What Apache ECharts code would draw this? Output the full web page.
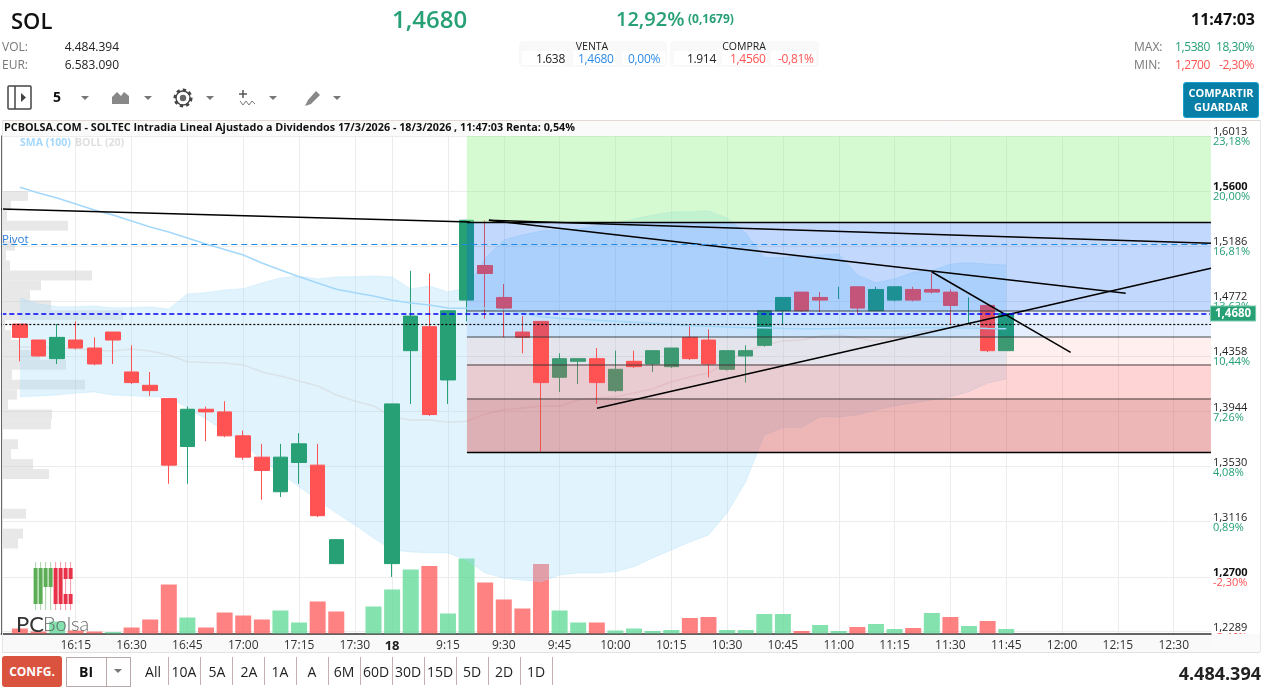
<!DOCTYPE html>
<html>
<head>
<meta charset="utf-8">
<title>SOL</title>
<script src="https://cdn.jsdelivr.net/npm/echarts@6/dist/echarts.min.js"></script>
<style>
html, body { margin: 0; padding: 0; background: #fff; overflow: hidden; }
body { width: 1274px; height: 693px; position: relative; font-family: "Open Sans", sans-serif; color: #222; }
#main { position: absolute; left: 0; top: 0; width: 1274px; height: 693px; }
.t { position: absolute; white-space: nowrap; line-height: 1; transform: translateY(-50%); }
.r { transform: translate(-100%, -50%); }
.c { transform: translate(-50%, -50%); }
.box { position: absolute; box-sizing: border-box; }
.green { color: #26a074; }
.red { color: #ff5252; }
.blue { color: #2f8be6; }
.grey { color: #777; }
.sep { position: absolute; top: 657px; width: 1px; height: 28px; background: #c4b0b0; }
.range { position: absolute; top: 672px; font-size: 14px; line-height: 1; font-weight: 500; transform: translate(-50%, -50%); }
svg { position: absolute; }
</style>
</head>
<body>
<div id="main"></div>

<!-- header -->
<div class="t" style="left:11px;top:20px;font-size:22px;font-weight:600;color:#111">SOL</div>
<div class="t green" style="left:392px;top:19px;font-size:24px;font-weight:600">1,4680</div>
<div class="t green" style="left:616px;top:19px;font-size:20px;font-weight:600">12,92%</div>
<div class="t green" style="left:688px;top:19px;font-size:12px;font-weight:700">(0,1679)</div>
<div class="t r" style="left:1255px;top:19px;font-size:16px;font-weight:700;color:#111">11:47:03</div>

<div class="t grey" style="left:2px;top:47px;font-size:12px">VOL:</div>
<div class="t r" style="left:119px;top:47px;font-size:12px">4.484.394</div>
<div class="t grey" style="left:2px;top:65px;font-size:12px">EUR:</div>
<div class="t r" style="left:119px;top:65px;font-size:12px">6.583.090</div>

<div class="box" style="left:519px;top:41px;width:148px;height:26px;background:#f9f9f9;border-radius:4px"></div>
<div class="box" style="left:670px;top:41px;width:149px;height:26px;background:#f9f9f9;border-radius:4px"></div>
<div class="box" style="left:522px;top:51px;width:43px;height:14px;background:#fff"></div>
<div class="box" style="left:573px;top:51px;width:43px;height:14px;background:#fff"></div>
<div class="box" style="left:622px;top:51px;width:43px;height:14px;background:#fff"></div>
<div class="box" style="left:674px;top:51px;width:43px;height:14px;background:#fff"></div>
<div class="box" style="left:722px;top:51px;width:45px;height:14px;background:#fff"></div>
<div class="box" style="left:771px;top:51px;width:45px;height:14px;background:#fff"></div>
<div class="t c" style="left:592px;top:45.5px;font-size:10.5px">VENTA</div>
<div class="t c" style="left:744px;top:45.5px;font-size:10.5px">COMPRA</div>
<div class="t r" style="left:565px;top:58.5px;font-size:12px;letter-spacing:-0.3px">1.638</div>
<div class="t blue" style="left:578px;top:58.5px;font-size:12px;letter-spacing:-0.3px">1,4680</div>
<div class="t blue" style="left:628px;top:58.5px;font-size:12px;letter-spacing:-0.3px">0,00%</div>
<div class="t r" style="left:716px;top:58.5px;font-size:12px;letter-spacing:-0.3px">1.914</div>
<div class="t red" style="left:730px;top:58.5px;font-size:12px;letter-spacing:-0.3px">1,4560</div>
<div class="t red" style="left:778px;top:58.5px;font-size:12px;letter-spacing:-0.3px">-0,81%</div>

<div class="t grey" style="left:1134px;top:47px;font-size:12px">MAX:</div>
<div class="t green" style="left:1175px;top:47px;font-size:12px;letter-spacing:-0.4px">1,5380</div>
<div class="t r green" style="left:1254px;top:47px;font-size:12px;letter-spacing:-0.4px">18,30%</div>
<div class="t grey" style="left:1134px;top:65px;font-size:12px">MIN:</div>
<div class="t red" style="left:1175px;top:65px;font-size:12px;letter-spacing:-0.4px">1,2700</div>
<div class="t r red" style="left:1254px;top:65px;font-size:12px;letter-spacing:-0.4px">-2,30%</div>

<div class="box" style="left:1183px;top:82px;width:76px;height:36px;background:#087fa6;border:1px solid #19a0cc;border-radius:3px"></div>
<div class="t c" style="left:1221px;top:92px;font-size:11px;font-weight:700;color:#fff">COMPARTIR</div>
<div class="t c" style="left:1221px;top:106px;font-size:11px;font-weight:700;color:#fff">GUARDAR</div>

<!-- toolbar -->
<svg style="left:0;top:80px" width="345" height="36" viewBox="0 80 345 36">
  <rect x="8" y="86" width="23" height="23" fill="none" stroke="#444" stroke-width="1.5" rx="1"/>
  <line x1="15" y1="86" x2="15" y2="109" stroke="#444" stroke-width="1.5"/>
  <path d="M21 93 L26 97.5 L21 102 Z" fill="#444"/>
  <path d="M81 96 h8 l-4 4 Z M144 96 h8 l-4 4 Z M206 96 h8 l-4 4 Z M269 96 h8 l-4 4 Z M333 96 h8 l-4 4 Z" fill="#777"/>
  <path d="M112 104 V97 L117 92 L121 96 L124 92 L129 96 V104 Z" fill="#888"/>
  <circle cx="183" cy="98" r="8" fill="none" stroke="#444" stroke-width="3" stroke-dasharray="3.2 3"/>
  <circle cx="183" cy="98" r="7" fill="none" stroke="#444" stroke-width="1.3"/>
  <circle cx="183" cy="98" r="3.2" fill="#666"/>
  <path d="M243 90 v8 M239 94 h8" stroke="#555" stroke-width="1.5"/>
  <path d="M240 101 l3 4 l3 -4 l3 4 l3 -4 l3 3" fill="none" stroke="#777"/>
  <path d="M305 106 L308 100 L316 91 L320 95 L311 104 Z" fill="#888"/>
</svg>
<div class="t" style="left:53px;top:97px;font-size:14px;font-weight:700;color:#111">5</div>

<!-- footer -->
<div class="box" style="left:2px;top:656px;width:60px;height:31px;background:#d9533f;border-radius:3px"></div>
<div class="t c" style="left:32px;top:672px;font-size:12px;font-weight:700;color:#fff">CONFG.</div>
<div class="box" style="left:66px;top:657px;width:65px;height:30px;border:1px solid #b9a8a8"></div>
<div class="box" style="left:106px;top:657px;width:1px;height:30px;background:#b9a8a8"></div>
<div class="t c" style="left:86px;top:672px;font-size:14px;font-weight:700;color:#111">BI</div>
<svg style="left:113px;top:668px" width="10" height="6"><path d="M1 1 h8 l-4 4 Z" fill="#777"/></svg>
<div class="range" style="left:153px">All</div><div class="sep" style="left:168px"></div>
<div class="range" style="left:184px">10A</div><div class="sep" style="left:200px"></div>
<div class="range" style="left:217px">5A</div><div class="sep" style="left:232px"></div>
<div class="range" style="left:249px">2A</div><div class="sep" style="left:264px"></div>
<div class="range" style="left:280px">1A</div><div class="sep" style="left:296px"></div>
<div class="range" style="left:312px">A</div><div class="sep" style="left:328px"></div>
<div class="range" style="left:344px">6M</div><div class="sep" style="left:360px"></div>
<div class="range" style="left:376px">60D</div><div class="sep" style="left:392px"></div>
<div class="range" style="left:408px">30D</div><div class="sep" style="left:424px"></div>
<div class="range" style="left:440px">15D</div><div class="sep" style="left:456px"></div>
<div class="range" style="left:472px">5D</div><div class="sep" style="left:488px"></div>
<div class="range" style="left:504px">2D</div><div class="sep" style="left:520px"></div>
<div class="range" style="left:536px">1D</div><div class="sep" style="left:552px"></div>
<div class="t r" style="left:1261px;top:673px;font-size:18px;font-weight:700;color:#222">4.484.394</div>

<script>
// bars of 5 minutes, the first slot is an empty pad so the axis starts left of 16:00
var categories = ['',
  '16:00','16:05','16:10','16:15','16:20','16:25','16:30','16:35','16:40','16:45',
  '16:50','16:55','17:00','17:05','17:10','17:15','17:20','17:25','17:30','17:35',
  '18','9:05','9:10','9:15','9:20','9:25','9:30','9:35','9:40','9:45',
  '9:50','9:55','10:00','10:05','10:10','10:15','10:20','10:25','10:30','10:35',
  '10:40','10:45','10:50','10:55','11:00','11:05','11:10','11:15','11:20','11:25',
  '11:30','11:35','11:40','11:45','11:50','11:55','12:00','12:05','12:10','12:15',
  '12:20','12:25','12:30','12:35','12:40']
var tickLabels = ['16:15','16:30','16:45','17:00','17:15','17:30','18','9:15','9:30','9:45',
  '10:00','10:15','10:30','10:45','11:00','11:15','11:30','11:45','12:00','12:15','12:30']

var priceTicks = [1.6013,1.5600,1.5186,1.4772,1.4358,1.3944,1.3530,1.3116,1.2700,1.2289]
var pctLabels = ['23,18%','20,00%','16,81%','13,63%','10,44%','7,26%','4,08%','0,89%','-2,30%','-5,46%']

var opens = [1.460,1.448,1.434,1.448,1.442,1.454,1.424,1.414,1.404,1.368,
  1.396,1.394,1.376,1.360,1.334,1.356,1.354,1.280,null,null,
  1.280,1.440,1.458,1.418,1.478,1.504,1.480,1.454,1.462,1.420,
  1.432,1.434,1.410,1.432,1.430,1.428,1.450,1.448,1.426,1.436,
  1.444,1.470,1.484,1.480,1.480,1.488,1.470,1.478,1.486,1.486,
  1.484,1.470,1.474,1.440]
var closes = [1.450,1.436,1.450,1.442,1.430,1.448,1.416,1.410,1.354,1.396,
  1.394,1.376,1.360,1.350,1.360,1.370,1.316,1.298,null,null,
  1.400,1.466,1.392,1.470,1.538,1.498,1.472,1.450,1.416,1.434,
  1.434,1.416,1.426,1.428,1.440,1.442,1.434,1.430,1.440,1.440,
  1.470,1.480,1.470,1.478,1.480,1.472,1.486,1.488,1.478,1.484,
  1.474,1.470,1.440,1.468]
var lows = [1.432,1.4355,1.430,1.441,1.429,1.430,1.415,1.406,1.340,1.340,
  1.372,1.375,1.358,1.328,1.330,1.340,1.315,1.280,null,null,
  1.270,1.400,1.391,1.400,1.462,1.464,1.450,1.438,1.364,1.409,
  1.415,1.400,1.409,1.427,1.424,1.427,1.433,1.420,1.425,1.416,
  1.443,1.460,1.469,1.469,1.4788,1.468,1.470,1.477,1.477,1.483,
  1.460,1.460,1.439,1.440]
var highs = [1.460,1.448,1.460,1.462,1.450,1.454,1.444,1.424,1.404,1.398,
  1.398,1.402,1.380,1.370,1.370,1.378,1.370,1.298,null,null,
  1.400,1.500,1.498,1.470,1.538,1.538,1.490,1.466,1.462,1.438,
  1.434,1.442,1.440,1.440,1.440,1.442,1.460,1.456,1.440,1.444,
  1.470,1.480,1.484,1.484,1.488,1.488,1.488,1.488,1.488,1.498,
  1.486,1.480,1.474,1.468]

var volumes = [34000,13600,81600,20400,13600,10200,40800,95200,333200,108800,
  40800,142800,122400,95200,156400,74800,217600,149600,0,183600,
  299200,435200,459000,136000,510000,346800,231200,170000,472600,156400,
  74800,74800,20400,34000,17000,23800,105400,112200,23800,23800,
  132600,132600,17000,57800,17000,44200,64600,30600,37400,139400,
  112200,51000,85000,30600]
var volumeSide = ['r','r','g','r','r','g','r','r','r','g',
  'r','r','r','r','g','g','r','r','g','g',
  'g','g','r','g','g','r','r','r','r','g',
  'g','r','g','g','g','g','r','r','g','g',
  'g','g','r','g','g','r','g','g','r','g',
  'r','g','r','g']

var sma100 = [1.5628,1.5585,1.5547,1.5502,1.5457,1.5420,1.5374,1.5329,1.5292,1.5247,
  1.5202,1.5160,1.5119,1.5059,1.5006,1.4956,1.4909,1.4861,1.4836,1.4811,
  1.4779,1.4758,1.4743,1.4721,1.4719,1.4719,1.4704,1.4683,1.4655,1.4643,
  1.4638,1.4628,1.4621,1.4613,1.4606,1.4598,1.4588,1.4583,1.4578,1.4573,
  1.4573,1.4568,1.4565,1.4565,1.4568,1.4570,1.4570,1.4570,1.4573,1.4573,
  1.4570,1.4570,1.4567,1.4565]
var bollUpper = [1.4796,1.4751,1.4730,1.4730,1.4736,1.4721,1.4723,1.4728,1.4713,1.4826,
  1.4836,1.4856,1.4866,1.4909,1.4946,1.4961,1.4939,1.4954,1.4956,1.4961,
  1.4954,1.4864,1.4886,1.4841,1.4871,1.5096,1.5232,1.5269,1.5299,1.5307,
  1.5314,1.5339,1.5359,1.5389,1.5420,1.5442,1.5444,1.5452,1.5397,1.5284,
  1.5099,1.5099,1.5114,1.5119,1.5127,1.4969,1.4911,1.4939,1.4991,1.5001,
  1.5051,1.5061,1.5051,1.5044]
var bollMid = [1.4428,1.4428,1.4420,1.4413,1.4405,1.4398,1.4413,1.4398,1.4368,1.4317,
  1.4311,1.4308,1.4293,1.4240,1.4210,1.4172,1.4135,1.4067,1.4022,1.3985,
  1.3902,1.3879,1.3879,1.3862,1.3870,1.3924,1.3954,1.3970,1.3985,1.3985,
  1.4030,1.4045,1.4054,1.4082,1.4112,1.4167,1.4202,1.4232,1.4317,1.4393,
  1.4443,1.4473,1.4480,1.4510,1.4518,1.4495,1.4473,1.4495,1.4533,1.4556,
  1.4570,1.4586,1.4563,1.4556]
var bollLower = [1.4054,1.4060,1.4067,1.4082,1.4090,1.4067,1.4062,1.4054,1.4052,1.3970,
  1.3887,1.3797,1.3707,1.3579,1.3481,1.3378,1.3278,1.3181,1.3090,1.2993,
  1.2903,1.2888,1.2882,1.2880,1.2828,1.2730,1.2692,1.2677,1.2665,1.2715,
  1.2730,1.2730,1.2740,1.2777,1.2843,1.2903,1.2963,1.3015,1.3181,1.3416,
  1.3767,1.3822,1.3822,1.3904,1.3902,1.3917,1.3954,1.3985,1.4007,1.4030,
  1.4054,1.4092,1.4157,1.4187]

// volume at price, rows from the top of the left profile
var profile = [25,8,4,65,0,12,3,7,89,38,27,48,120,2,8,17,37,63,9,82,14,5,49,48,0,15,8,30,46,0,0,0,23,0,20,15]

var lastPrice = 1.4680
var pivotPrice = 1.5199
var dottedPrice = 1.4599

// fibonacci zones, slots on the overlay axis and prices
var zoneStart = 25.02
var zoneEnd = 65
var zoneLevels = [1.6013,1.5367,1.4698,1.4501,1.4298,1.4042,1.3637]
// trend lines: slot, price, slot, price
var trendLines = [
  [0,1.5465,25.19,1.5367],
  [26.2,1.5380,65,1.5207],
  [26.2,1.5380,60.42,1.4831],
  [49.99,1.4993,57.46,1.4388],
  [32.01,1.3967,65,1.5019]
]

var GREEN = '#26a074'
var RED = '#ff5252'
var FONT = '"Open Sans", sans-serif'

var zoneColors = ['rgba(150,240,140,0.4)','rgba(0,95,246,0.24)','rgba(0,95,246,0.106)',
  'rgba(255,95,95,0.1)','rgba(255,90,90,0.26)','rgba(214,83,83,0.42)']
var lineColors = ['#000','rgba(50,50,50,0.6)','rgba(50,50,50,0.6)','rgba(50,50,50,0.6)','rgba(50,50,50,0.6)','#000']

function pad(list) {
  return ['-'].concat(list)
}
function isDoji(i) {
  return opens[i] != null && opens[i] === closes[i]
}
function candleRow(i) {
  return [opens[i], closes[i], lows[i], highs[i]]
}
var EMPTY_ROW = ['-','-','-','-']

var candles = [EMPTY_ROW].concat(opens.map((x, i) => (x == null || isDoji(i)) ? EMPTY_ROW : candleRow(i)))
var dojis = [EMPTY_ROW].concat(opens.map((x, i) => isDoji(i) ? candleRow(i) : EMPTY_ROW))

var zoneAreas = []
for (var i = 0; i < zoneColors.length; i++) {
  zoneAreas.push([
    { xAxis: zoneStart, yAxis: zoneLevels[i], itemStyle: { color: zoneColors[i] } },
    { xAxis: zoneEnd, yAxis: zoneLevels[i + 1] }
  ])
}
var drawnLines = []
for (var i = 0; i < lineColors.length; i++) {
  drawnLines.push([
    { coord: [zoneStart, zoneLevels[i + 1]], lineStyle: { color: lineColors[i], width: i == 0 || i == 5 ? 1.3 : 1.5, type: 'solid' } },
    { coord: [zoneEnd, zoneLevels[i + 1]] }
  ])
}
trendLines.forEach(x => {
  drawnLines.push([
    { coord: [x[0], x[1]], lineStyle: { color: '#000', width: 1.5, type: 'solid' } },
    { coord: [x[2], x[3]] }
  ])
})

// the PC logo, it is only a picture in the corner
var logo = []
var logoColors = ['#5cae55','#5cae55','#5cae55','#5cae55','#e8324a','#e8324a','#e8324a','#e8324a']
logoColors.forEach((c, k) => {
  var x = 35.6 + k * 5
  logo.push({ type: 'rect', shape: { x: x - 0.5, y: 562, width: 1, height: 48 }, style: { fill: c, opacity: 0.5 }, z: 20, silent: true })
  var parts = k < 2 || k == 4 || k == 5 ? [[568, 36]] : k < 4 ? [[568, 19]] : [[568, 11], [594, 10]]
  parts.forEach(p => {
    logo.push({ type: 'rect', shape: { x: x - 2, y: p[0], width: 4, height: p[1] }, style: { fill: c }, z: 20, silent: true })
  })
})

var chart = echarts.init(document.getElementById('main'), null, { width: 1274, height: 693 })
chart.setOption({
  animation: false,
  grid: [
    { left: 1.3, right: 63.05, top: 136, bottom: 59.5 },
    { left: 3, width: 1208, top: 191, height: 357.5 }
  ],
  xAxis: [
    {
      type: 'category',
      data: categories,
      boundaryGap: false,
      axisLine: { lineStyle: { color: '#333', width: 1.5 } },
      axisTick: { show: false },
      axisLabel: {
        interval: (idx, val) => tickLabels.includes(val),
        color: '#333',
        fontFamily: FONT,
        fontSize: 12,
        margin: 6,
        formatter: val => val == '18' ? '{b|18}' : val,
        rich: { b: { fontWeight: 'bold', fontSize: 13, color: '#222', fontFamily: FONT } }
      },
      splitLine: {
        show: true,
        interval: (idx, val) => tickLabels.includes(val),
        lineStyle: { color: '#ececec', width: 1 }
      }
    },
    { type: 'value', min: 0, max: 65, show: false, gridIndex: 0 },
    { type: 'value', min: 0, max: 1208, show: false, gridIndex: 1 }
  ],
  yAxis: [
    {
      type: 'value',
      position: 'right',
      min: 1.2275,
      max: 1.6013,
      axisLine: { show: true, lineStyle: { color: '#333', width: 1.5 } },
      axisTick: { show: false, customValues: priceTicks },
      splitLine: { show: true, lineStyle: { color: '#ececec', width: 1 } },
      axisLabel: {
        customValues: priceTicks,
        margin: 2,
        align: 'left',
        padding: [2, 0, 0, 0],
        formatter: val => {
          var idx = priceTicks.findIndex(x => Math.abs(x - val) < 0.00005)
          var style = pctLabels[idx].charAt(0) == '-' ? 'r' : 'g'
          var head = (val == 1.56 || val == 1.27) ? 'pb' : 'p'
          return '{' + head + '|' + val.toFixed(4).replace('.', ',') + '}\n{' + style + '|' + pctLabels[idx] + '}'
        },
        rich: {
          p: { color: '#222', fontSize: 11, fontFamily: FONT, lineHeight: 10 },
          pb: { color: '#111', fontSize: 11, fontWeight: 'bold', fontFamily: FONT, lineHeight: 10 },
          g: { color: GREEN, fontSize: 11, fontFamily: FONT, lineHeight: 10 },
          r: { color: RED, fontSize: 11, fontFamily: FONT, lineHeight: 10 }
        }
      }
    },
    { type: 'value', min: 0, max: 3383000, show: false },
    { type: 'category', data: profile.map((x, i) => i), inverse: true, show: false, gridIndex: 1 }
  ],
  series: [
    {
      name: 'Perfil',
      type: 'bar',
      xAxisIndex: 2,
      yAxisIndex: 2,
      data: profile,
      barWidth: '100%',
      itemStyle: { color: 'rgba(200,200,200,0.42)' },
      silent: true,
      z: 1
    },
    {
      name: 'Volumen',
      type: 'bar',
      yAxisIndex: 1,
      barWidth: 16,
      data: [{ value: '-' }].concat(volumes.map((x, i) => ({
        value: x,
        itemStyle: { color: volumeSide[i] == 'g' ? 'rgba(90,216,147,0.75)' : 'rgba(255,82,82,0.72)' }
      }))),
      z: 2
    },
    {
      name: 'BOLL inf',
      type: 'line',
      stack: 'boll',
      data: pad(bollLower),
      symbol: 'none',
      lineStyle: { color: 'rgba(165,220,250,0.3)', width: 1 },
      z: 3
    },
    {
      name: 'BOLL (20)',
      type: 'line',
      stack: 'boll',
      data: pad(bollUpper.map((x, i) => x - bollLower[i])),
      symbol: 'none',
      lineStyle: { color: 'rgba(165,220,250,0.3)', width: 1 },
      areaStyle: { color: 'rgba(165,220,250,0.33)', opacity: 1 },
      z: 3
    },
    {
      name: 'BOLL med',
      type: 'line',
      data: pad(bollMid),
      symbol: 'none',
      lineStyle: { color: 'rgba(205,195,195,0.35)', width: 1.5 },
      z: 3
    },
    {
      name: 'SOL',
      type: 'candlestick',
      data: candles,
      barWidth: 15,
      itemStyle: { color: GREEN, color0: RED, borderColor: GREEN, borderColor0: RED, borderWidth: 1 },
      z: 4
    },
    {
      name: 'SOL doji',
      type: 'candlestick',
      data: dojis,
      barWidth: 1,
      itemStyle: { color: GREEN, color0: GREEN, borderColor: GREEN, borderColor0: GREEN, borderWidth: 1 },
      z: 4
    },
    {
      name: 'Zonas',
      type: 'line',
      xAxisIndex: 1,
      data: [],
      markArea: { silent: true, z: 5, data: zoneAreas },
      z: 5
    },
    {
      name: 'SMA (100)',
      type: 'line',
      data: pad(sma100),
      symbol: 'none',
      lineStyle: { color: '#a4d8fb', width: 1.5 },
      z: 6
    },
    {
      name: 'Dibujos',
      type: 'line',
      xAxisIndex: 1,
      data: [],
      markLine: {
        silent: true,
        z: 7,
        precision: 4,
        symbol: 'none',
        label: { show: false },
        data: drawnLines
      },
      z: 7
    },
    {
      name: 'Niveles',
      type: 'line',
      data: [],
      markLine: {
        silent: true,
        z: 8,
        precision: 4,
        symbol: 'none',
        data: [
          { yAxis: pivotPrice, lineStyle: { color: '#1e88e5', type: [6, 4], width: 1.2 }, label: { show: false } },
          { yAxis: dottedPrice, lineStyle: { color: '#000', type: [2, 2], width: 1.2 }, label: { show: false } },
          {
            yAxis: lastPrice,
            lineStyle: { color: '#0000ff', type: [5, 3], width: 1.5 },
            label: {
              show: true,
              position: 'end',
              distance: 0,
              formatter: '1,4680',
              color: '#fff',
              fontFamily: FONT,
              fontSize: 11.5,
              fontWeight: 'bold',
              backgroundColor: GREEN,
              borderColor: '#7fcdb0',
              borderWidth: 1,
              padding: [1, 4]
            }
          }
        ]
      },
      z: 8
    }
  ],
  graphic: [
    // strips and frame around the plot
    { type: 'rect', shape: { x: 3, y: 120, width: 1257, height: 16 }, style: { fill: '#fafafa' }, z: -1, silent: true },
    { type: 'rect', shape: { x: 1211, y: 120, width: 49, height: 16 }, style: { fill: '#fff' }, z: -1, silent: true },
    { type: 'rect', shape: { x: 2, y: 634, width: 1258, height: 18 }, style: { fill: '#f9f9f9' }, z: -1, silent: true },
    { type: 'rect', shape: { x: 1212, y: 634, width: 48, height: 18 }, style: { fill: '#fafafa' }, z: 100, silent: true },
    { type: 'line', shape: { x1: 2, y1: 120.5, x2: 1260, y2: 120.5 }, style: { stroke: '#e2d8d4' }, z: 30, silent: true },
    { type: 'line', shape: { x1: 2.5, y1: 120, x2: 2.5, y2: 652 }, style: { stroke: '#e6e6e6' }, z: 30, silent: true },
    { type: 'line', shape: { x1: 1260.5, y1: 120, x2: 1260.5, y2: 652 }, style: { stroke: '#e6e6e6' }, z: 101, silent: true },
    { type: 'line', shape: { x1: 2, y1: 652.5, x2: 1260, y2: 652.5 }, style: { stroke: '#e2e2e2' }, z: 101, silent: true },
    { type: 'text', x: 4, y: 127.5, style: { text: 'PCBOLSA.COM - SOLTEC Intradia Lineal Ajustado a Dividendos 17/3/2026 - 18/3/2026 , 11:47:03 Renta: 0,54%', font: 'bold 10.8px "Open Sans", sans-serif', fill: '#111', verticalAlign: 'middle' }, z: 30, silent: true },
    { type: 'text', x: 20, y: 143.5, style: { text: 'SMA (100)', font: 'bold 10.5px "Open Sans", sans-serif', fill: '#a4d8fb', verticalAlign: 'middle' }, z: 30, silent: true },
    { type: 'text', x: 75, y: 143.5, style: { text: 'BOLL (20)', font: 'bold 10.5px "Open Sans", sans-serif', fill: '#e0e0e0', verticalAlign: 'middle' }, z: 30, silent: true },
    { type: 'text', x: 2, y: 239.5, style: { text: 'Pivot', font: '11.5px "Open Sans", sans-serif', fill: '#2f7fd8', verticalAlign: 'middle' }, z: 30, silent: true },
    { type: 'text', x: 16, y: 625, style: { text: 'PC', font: '400 22px Lato, sans-serif', fill: '#333', verticalAlign: 'middle' }, z: 30, silent: true },
    { type: 'text', x: 43, y: 625, style: { text: 'Bolsa', font: '300 20px Lato, sans-serif', fill: '#666', verticalAlign: 'middle' }, z: 30, silent: true }
  ].concat(logo)
})
</script>
</body>
</html>
